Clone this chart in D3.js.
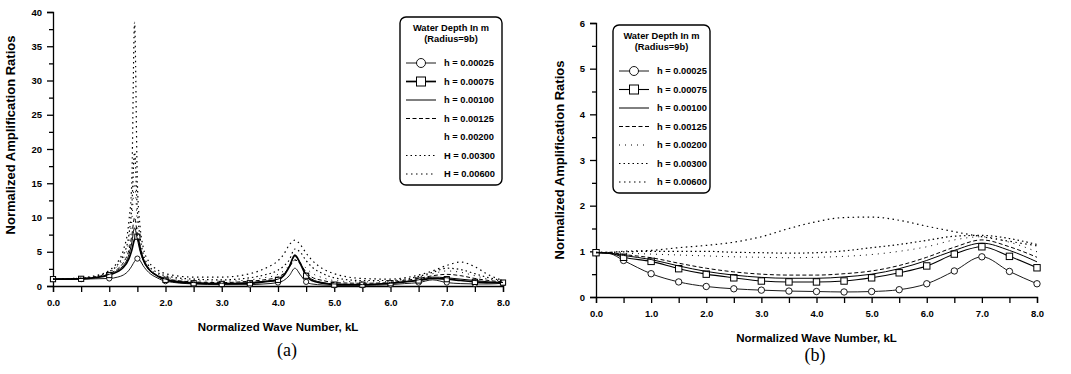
<!DOCTYPE html>
<html lang="en">
<head>
<meta charset="utf-8" />
<title>Amplification Ratios</title>
<style>
	* { margin: 0; padding: 0; }
	body { background: #fff; width: 1071px; height: 374px; overflow: hidden; }
	svg { display: block; }
	.tick text { font-family: "Liberation Sans", Arial, sans-serif; font-weight: bold; font-size: 9.5px; fill: #000; }
	.axis path, .axis line { stroke: #000; stroke-width: 1.3px; }
	.lbl { font-family: "Liberation Sans", Arial, sans-serif; font-weight: bold; font-size: 11.5px; fill: #000; }
	.ylbl { font-family: "Liberation Sans", Arial, sans-serif; font-weight: bold; font-size: 13px; fill: #000; }
	.cap { font-family: "Liberation Serif", "Times New Roman", serif; font-size: 18px; fill: #000; }
	.leg { font-family: "Liberation Sans", Arial, sans-serif; font-weight: bold; font-size: 9.3px; fill: #000; }
</style>
</head>
<body>
<script src="https://d3js.org/d3.v7.min.js"></script>
<svg id="chart" width="1071" height="374"></svg>
<script>

// ---- data, panel (a) ----
var kLA = [0, 0.5, 0.75, 1.0, 1.15, 1.25, 1.35, 1.4, 1.45, 1.5, 1.55, 1.6, 1.7, 1.85, 2.0, 2.5, 3.0, 3.5, 3.75, 4.0, 4.1, 4.2, 4.3, 4.4, 4.5, 4.6, 4.8, 5.0, 5.5, 6.0, 6.25, 6.5, 6.75, 7.0, 7.25, 7.5, 7.75, 8.0];
var a00025 = [1.0, 1.0, 1.05, 1.1, 1.3, 1.6, 2.3, 2.9, 3.6, 4.0, 3.7, 3.0, 2.0, 1.2, 0.7, 0.3, 0.2, 0.2, 0.3, 0.5, 0.8, 1.5, 2.6, 1.6, 0.6, 0.3, 0.15, 0.1, 0.1, 0.2, 0.35, 0.5, 0.9, 0.5, 0.35, 0.3, 0.3, 0.4];
var a00075 = [1.0, 1.05, 1.2, 1.6, 2.1, 2.7, 4.0, 5.2, 6.8, 7.2, 5.5, 4.0, 2.5, 1.5, 0.9, 0.4, 0.3, 0.4, 0.6, 0.9, 1.5, 2.8, 4.5, 3.2, 1.5, 0.8, 0.4, 0.2, 0.2, 0.4, 0.6, 0.8, 1.1, 1.0, 0.8, 0.6, 0.5, 0.5];
var a00100 = [1.0, 1.1, 1.25, 1.7, 2.3, 3.0, 4.6, 6.3, 8.5, 6.8, 5.0, 3.8, 2.4, 1.5, 1.0, 0.5, 0.4, 0.5, 0.7, 1.0, 1.6, 2.9, 4.3, 3.3, 1.7, 1.0, 0.5, 0.3, 0.2, 0.4, 0.6, 0.9, 1.3, 1.2, 1.0, 0.8, 0.6, 0.5];
var a00125 = [1.0, 1.1, 1.3, 1.8, 2.5, 3.4, 5.3, 7.3, 10.0, 7.5, 5.3, 3.9, 2.5, 1.6, 1.1, 0.6, 0.5, 0.7, 0.9, 1.3, 1.8, 2.7, 3.8, 3.2, 2.0, 1.3, 0.8, 0.5, 0.4, 0.5, 0.8, 1.1, 1.5, 1.7, 1.5, 1.1, 0.8, 0.6];
var a00200 = [1.0, 1.1, 1.35, 2.0, 2.9, 4.0, 6.5, 9.5, 15.0, 9.0, 6.0, 4.3, 2.7, 1.8, 1.3, 0.8, 0.7, 0.9, 1.2, 1.7, 2.2, 3.0, 3.8, 3.4, 2.6, 1.9, 1.2, 0.8, 0.6, 0.7, 0.9, 1.3, 1.8, 2.2, 2.0, 1.5, 1.0, 0.7];
var a00300 = [1.0, 1.15, 1.4, 2.1, 3.1, 4.5, 7.5, 11.5, 19.5, 11.0, 7.0, 4.8, 3.0, 2.0, 1.5, 1.0, 0.9, 1.2, 1.6, 2.3, 2.9, 3.8, 5.4, 4.9, 3.7, 2.8, 1.8, 1.2, 0.8, 0.8, 1.0, 1.4, 2.0, 2.6, 2.4, 1.8, 1.2, 0.8];
var a00600 = [1.0, 1.2, 1.5, 2.3, 3.5, 5.2, 9.5, 15.0, 38.5, 15.0, 8.5, 5.8, 3.6, 2.4, 1.8, 1.3, 1.3, 1.8, 2.5, 3.7, 4.6, 6.0, 6.7, 6.0, 4.8, 3.8, 2.5, 1.8, 1.1, 1.0, 1.2, 1.6, 2.2, 3.0, 3.5, 2.8, 1.6, 0.8];

// ---- data, panel (b) ----
var kLB = [0, 0.25, 0.5, 1.0, 1.5, 2.0, 2.5, 3.0, 3.5, 4.0, 4.5, 5.0, 5.5, 6.0, 6.5, 7.0, 7.5, 8.0];
var b00025 = [0.97, 0.95, 0.80, 0.51, 0.33, 0.23, 0.18, 0.15, 0.13, 0.12, 0.11, 0.12, 0.16, 0.29, 0.57, 0.88, 0.56, 0.29];
var b00075 = [0.97, 0.96, 0.87, 0.78, 0.62, 0.50, 0.42, 0.35, 0.33, 0.33, 0.35, 0.42, 0.53, 0.68, 0.94, 1.10, 0.89, 0.64];
var b00100 = [0.97, 0.96, 0.91, 0.82, 0.68, 0.56, 0.48, 0.43, 0.41, 0.41, 0.44, 0.50, 0.62, 0.80, 1.02, 1.18, 1.02, 0.77];
var b00125 = [0.97, 0.97, 0.93, 0.86, 0.74, 0.63, 0.55, 0.50, 0.48, 0.48, 0.51, 0.57, 0.69, 0.87, 1.09, 1.25, 1.10, 0.87];
var b00200 = [0.97, 0.97, 0.96, 0.94, 0.92, 0.90, 0.88, 0.87, 0.86, 0.87, 0.89, 0.93, 1.00, 1.10, 1.25, 1.32, 1.20, 0.99];
var b00300 = [0.98, 0.98, 0.99, 1.00, 1.00, 1.00, 0.98, 0.97, 0.96, 0.97, 1.01, 1.08, 1.15, 1.24, 1.33, 1.35, 1.28, 1.15];
var b00600 = [0.98, 0.98, 1.00, 1.02, 1.08, 1.13, 1.20, 1.32, 1.50, 1.65, 1.74, 1.75, 1.68, 1.55, 1.43, 1.32, 1.22, 1.12];

var depthsA = ["h = 0.00025", "h = 0.00075", "h = 0.00100", "h = 0.00125", "h = 0.00200", "H = 0.00300", "H = 0.00600"];
var depthsB = ["h = 0.00025", "h = 0.00075", "h = 0.00100", "h = 0.00125", "h = 0.00200", "h = 0.00300", "h = 0.00600"];
var xTicks = [0, 1, 2, 3, 4, 5, 6, 7, 8];
var yTicksA = [0, 5, 10, 15, 20, 25, 30, 35, 40];
var yTicksB = [0, 1, 2, 3, 4, 5, 6];

// line style per series, in legend order
var styles = [
	{ w: 0.9, dash: null, mark: "circle" },
	{ w: 1.7, dash: null, mark: "square" },
	{ w: 1.0, dash: null, mark: null },
	{ w: 1.0, dash: "4,2.5", mark: null },
	{ w: 1.0, dash: "1,5", mark: null },
	{ w: 1.2, dash: "1.5,3", mark: null },
	{ w: 1.2, dash: "1.5,3.5", mark: null }
];

var svg = d3.select("#chart");

var drawPanel = function(p) {
	var x = d3.scaleLinear().domain([0, 8]).range([p.left, p.right]);
	var y = d3.scaleLinear().domain([0, p.ymax]).range([p.bottom, p.top]);
	var g = svg.append("g");

	// x axis, ticks every 0.5, labels on whole numbers
	g.append("g")
		.attr("class", "axis")
		.attr("transform", "translate(0," + p.bottom + ")")
		.call(d3.axisBottom(x)
			.tickValues(d3.range(0, 8.01, 0.5))
			.tickSizeOuter(0)
			.tickSize(6)
			.tickPadding(7)
			.tickFormat(function(d) { return xTicks.indexOf(d) >= 0 ? d.toFixed(1) : ""; }));

	// y axis with minor ticks
	g.append("g")
		.attr("class", "axis")
		.attr("transform", "translate(" + p.left + ",0)")
		.call(d3.axisLeft(y)
			.tickValues(d3.range(0, p.ymax + 0.001, p.minor))
			.tickSizeOuter(0)
			.tickSize(6)
			.tickPadding(5)
			.tickFormat(function(d) { return p.yTicks.indexOf(d) >= 0 ? d : ""; }))
		.selectAll(".tick line")
		.attr("x2", function(d) { return p.yTicks.indexOf(d) >= 0 ? -6 : -4; });

	var line = d3.line()
		.x(function(d) { return x(d[0]); })
		.y(function(d) { return y(d[1]); })
		.curve(d3.curveMonotoneX);

	p.series.forEach(function(vals, i) {
		var pts = p.kL.map(function(k, j) { return [k, vals[j]]; });
		var st = styles[i];
		var w = (i == 1) ? p.sqw : st.w;
		g.append("path")
			.datum(pts)
			.attr("fill", "none")
			.attr("stroke", "#000")
			.attr("stroke-width", w)
			.attr("stroke-dasharray", st.dash)
			.attr("d", line);
		var marks = pts.filter(function(d) { return Math.abs(d[0] * 2 - Math.round(d[0] * 2)) < 1e-6; });
		if (st.mark == "circle") {
			g.selectAll(null).data(marks).enter().append("circle")
				.attr("cx", function(d) { return x(d[0]); })
				.attr("cy", function(d) { return y(d[1]); })
				.attr("r", p.mr)
				.attr("fill", "#fff").attr("stroke", "#000").attr("stroke-width", 0.9);
		}
		if (st.mark == "square") {
			g.selectAll(null).data(marks).enter().append("rect")
				.attr("x", function(d) { return x(d[0]) - p.mr; })
				.attr("y", function(d) { return y(d[1]) - p.mr; })
				.attr("width", p.mr * 2).attr("height", p.mr * 2)
				.attr("fill", "#fff").attr("stroke", "#000").attr("stroke-width", 1);
		}
	});

	// axis titles and caption
	g.append("text").attr("class", "lbl")
		.attr("x", (p.left + p.right) / 2).attr("y", p.bottom + 45)
		.attr("text-anchor", "middle")
		.text("Normalized Wave Number, kL");
	g.append("text").attr("class", "ylbl")
		.attr("transform", "translate(" + p.ylx + "," + p.yly + ") rotate(-90)")
		.attr("text-anchor", "middle")
		.text("Normalized Amplification Ratios");
	g.append("text").attr("class", "cap")
		.attr("x", p.capx).attr("y", p.capy)
		.attr("text-anchor", "middle")
		.text(p.cap);

	// legend
	var L = p.leg;
	g.append("rect")
		.attr("x", L.x).attr("y", L.y).attr("width", L.w).attr("height", L.h)
		.attr("rx", 6).attr("fill", "#fff").attr("stroke", "#000").attr("stroke-width", 1.4);
	g.append("text").attr("class", "leg").attr("x", L.x + L.w / 2).attr("y", L.y + 14)
		.attr("text-anchor", "middle").text("Water Depth In m");
	g.append("text").attr("class", "leg").attr("x", L.x + L.w / 2).attr("y", L.y + 25)
		.attr("text-anchor", "middle").text("(Radius=9b)");
	p.labels.forEach(function(lab, i) {
		var yy = L.y + 46 + i * 18.5;
		var st = styles[i];
		var w = (i == 1) ? p.sqw : st.w;
		if (!(p.hideLeg && i == 4)) {
			g.append("line")
				.attr("x1", L.x + 6).attr("x2", L.x + 36).attr("y1", yy).attr("y2", yy)
				.attr("stroke", "#000").attr("stroke-width", w).attr("stroke-dasharray", st.dash);
		}
		if (st.mark == "circle") {
			g.append("circle").attr("cx", L.x + 21).attr("cy", yy).attr("r", 4.5)
				.attr("fill", "#fff").attr("stroke", "#000").attr("stroke-width", 0.9);
		}
		if (st.mark == "square") {
			g.append("rect").attr("x", L.x + 16.5).attr("y", yy - 4.5).attr("width", 9).attr("height", 9)
				.attr("fill", "#fff").attr("stroke", "#000").attr("stroke-width", 1);
		}
		g.append("text").attr("class", "leg").attr("x", L.x + 44).attr("y", yy + 3).text(lab);
	});
};

drawPanel({
	left: 53, right: 503, top: 12, bottom: 286, ymax: 40, minor: 2.5, yTicks: yTicksA,
	kL: kLA, series: [a00025, a00075, a00100, a00125, a00200, a00300, a00600],
	labels: depthsA, hideLeg: true, ylx: 15, yly: 135, mr: 2.6, sqw: 1.7,
	cap: "(a)", capx: 287, capy: 356,
	leg: { x: 400, y: 17, w: 102, h: 168 }
});

drawPanel({
	left: 596, right: 1037, top: 23, bottom: 297, ymax: 6, minor: 0.5, yTicks: yTicksB,
	kL: kLB, series: [b00025, b00075, b00100, b00125, b00200, b00300, b00600],
	labels: depthsB, hideLeg: false, ylx: 564, yly: 160, mr: 3.2, sqw: 1.1,
	cap: "(b)", capx: 815, capy: 361,
	leg: { x: 613, y: 25, w: 97, h: 168 }
});

</script>
</body>
</html>
